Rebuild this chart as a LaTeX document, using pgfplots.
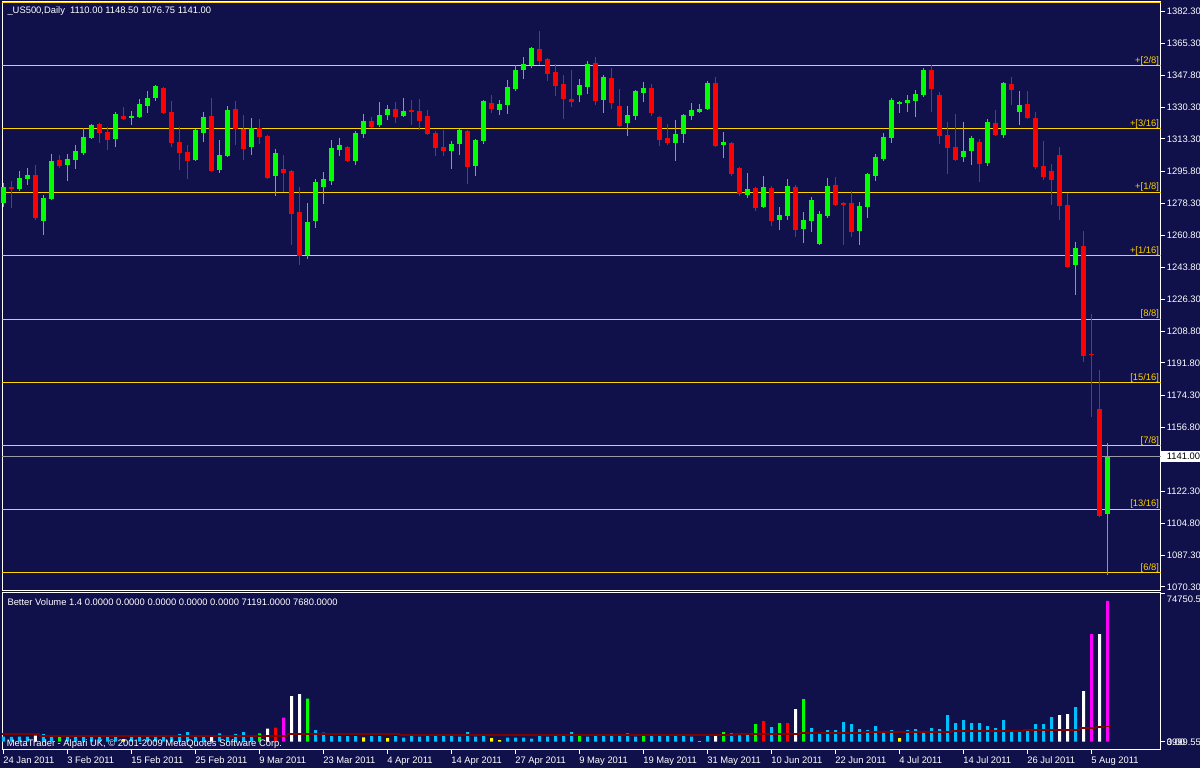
\documentclass[border=0pt]{standalone}
\usepackage{fontspec}
\setmainfont{Liberation Sans}
\usepackage{pgfplots}
\pgfplotsset{compat=1.18}
\usepackage{pgfplotstable}

\definecolor{chartbg}{HTML}{10104A}
\definecolor{bull}{HTML}{00FF00}
\definecolor{bear}{HTML}{FF0000}
\definecolor{murrey}{HTML}{FFD400}
\definecolor{curprice}{HTML}{9C9CA8}
\definecolor{vblue}{HTML}{00BFFF}
\definecolor{vgreen}{HTML}{00FF00}
\definecolor{vred}{HTML}{FF0000}
\definecolor{vmag}{HTML}{FF00FF}
\definecolor{vyel}{HTML}{FFFF00}
\definecolor{vavg}{HTML}{800000}

\newcommand{\chartfont}{\fontsize{9.4}{11}\selectfont}
\tikzset{
  lbl/.style={font=\chartfont, text=white, inner sep=0pt},
  rlab/.style={lbl, anchor=west, xshift=6.2pt},
  xlab/.style={lbl, anchor=base west, xshift=-0.4pt, yshift=-13.3pt},
  mlab/.style={font=\chartfont, text=murrey, inner sep=0pt, anchor=base east, xshift=-1.3pt, yshift=2.3pt},
}

% daily candles, US500: index, open, high, low, close
\pgfplotstableread{
i o h l c
0 1278.4 1289.2 1276.5 1287.4
2 1286.2 1295.9 1285.1 1292.1
3 1291.6 1297.4 1288.3 1293.7
5 1268.8 1282.9 1261.2 1281.3
6 1280.7 1305.1 1280.2 1301.3
8 1299.2 1305.1 1290.5 1302.4
9 1301.9 1310.0 1297.0 1306.8
10 1305.7 1319.2 1304.6 1314.4
11 1313.8 1321.4 1313.3 1320.9
14 1313.3 1327.9 1308.9 1326.8
16 1324.7 1328.5 1320.9 1325.7
17 1325.2 1335.0 1324.7 1332.3
18 1331.2 1339.3 1327.4 1335.5
19 1335.5 1342.6 1333.9 1342.0
24 1301.9 1318.7 1301.3 1318.2
25 1316.5 1327.9 1311.6 1325.2
27 1296.5 1312.7 1294.8 1304.6
28 1304.0 1331.2 1303.5 1329.0
31 1308.9 1324.7 1304.6 1319.2
34 1293.2 1307.8 1282.4 1305.7
38 1250.4 1278.6 1248.2 1268.3
39 1268.8 1291.6 1265.0 1290.0
40 1287.2 1295.4 1278.0 1291.6
41 1290.5 1312.7 1288.3 1308.4
42 1307.3 1313.8 1304.0 1310.0
44 1301.3 1317.6 1299.2 1316.5
45 1316.0 1326.8 1313.8 1323.0
47 1320.9 1333.3 1319.8 1326.3
48 1326.3 1331.7 1323.6 1329.5
50 1325.7 1335.5 1325.2 1328.5
56 1306.8 1312.2 1297.0 1310.6
57 1310.6 1318.7 1304.6 1318.2
59 1298.6 1313.3 1293.2 1312.7
60 1312.2 1334.4 1310.6 1333.9
62 1329.0 1334.4 1326.3 1332.3
63 1331.7 1345.3 1326.8 1341.5
64 1340.4 1353.4 1339.3 1350.7
65 1350.7 1357.7 1345.8 1353.9
66 1353.4 1363.2 1351.8 1362.6
72 1337.1 1345.8 1333.3 1342.6
73 1341.5 1355.6 1337.7 1353.9
75 1334.4 1348.0 1327.4 1346.9
78 1321.9 1331.2 1314.9 1326.3
79 1325.7 1339.8 1323.6 1339.3
80 1338.2 1344.2 1333.3 1340.9
84 1311.1 1323.6 1301.3 1316.0
85 1316.0 1326.8 1311.1 1326.3
86 1325.7 1332.8 1323.6 1329.0
87 1327.9 1332.3 1327.4 1329.5
88 1329.5 1344.7 1329.0 1343.6
90 1310.0 1317.1 1303.0 1311.6
93 1282.9 1294.8 1281.3 1286.2
95 1276.4 1293.2 1275.9 1287.2
97 1269.3 1276.4 1263.9 1272.1
98 1271.5 1291.6 1269.3 1287.8
100 1264.5 1273.7 1256.9 1269.3
101 1268.8 1281.8 1262.8 1280.2
102 1256.3 1274.2 1255.8 1272.6
103 1271.5 1292.1 1270.4 1287.8
107 1263.4 1279.1 1255.8 1276.9
108 1276.4 1294.8 1270.4 1294.3
109 1293.2 1305.1 1290.5 1303.5
110 1302.4 1316.5 1301.3 1314.4
111 1313.8 1335.5 1311.1 1334.4
112 1332.3 1333.9 1327.4 1333.3
113 1332.8 1337.1 1327.9 1334.4
114 1333.9 1339.8 1325.2 1337.7
115 1337.1 1351.8 1336.0 1350.7
120 1303.5 1322.5 1300.8 1306.8
121 1306.8 1314.9 1299.2 1313.8
123 1300.2 1324.1 1298.6 1322.5
125 1315.4 1344.2 1313.8 1343.6
127 1327.9 1339.3 1320.9 1331.7
134 1244.9 1257.4 1228.7 1254.2
138 1110.00 1148.50 1076.75 1141.00
}\bullcandles

\pgfplotstableread{
i o h l c
1 1287.4 1290.5 1276.0 1286.2
4 1293.7 1299.2 1269.3 1270.6
7 1301.9 1304.6 1297.4 1298.6
12 1321.4 1322.0 1311.1 1316.5
13 1317.1 1319.8 1307.3 1312.7
15 1325.7 1330.6 1323.6 1324.1
20 1340.9 1341.5 1326.8 1327.4
21 1327.9 1333.9 1308.9 1311.1
22 1311.6 1319.8 1296.5 1305.7
23 1306.2 1310.0 1291.6 1301.3
26 1325.7 1335.5 1295.4 1295.9
29 1329.5 1333.9 1310.0 1318.7
30 1318.7 1326.3 1301.9 1307.8
32 1319.2 1324.1 1310.6 1314.4
33 1314.9 1315.4 1291.6 1292.1
35 1297.0 1304.6 1284.5 1294.8
36 1295.9 1296.5 1255.8 1272.6
37 1273.7 1287.2 1244.9 1249.8
43 1308.9 1309.5 1300.8 1301.3
46 1323.0 1325.2 1319.2 1319.8
49 1329.5 1333.3 1321.9 1325.2
51 1329.0 1334.4 1320.9 1327.9
52 1328.5 1335.0 1318.2 1323.0
53 1325.7 1329.0 1315.4 1316.0
54 1316.5 1317.6 1304.0 1308.4
55 1308.9 1318.2 1304.0 1306.8
58 1317.6 1318.2 1288.9 1298.1
61 1332.8 1337.1 1327.4 1329.5
67 1362.1 1371.8 1353.4 1355.6
68 1356.7 1357.2 1344.7 1348.5
69 1349.6 1353.9 1336.6 1342.0
70 1343.1 1348.0 1324.1 1335.0
71 1335.0 1350.7 1330.6 1333.3
74 1354.5 1357.7 1331.7 1333.9
76 1346.3 1351.8 1329.5 1332.8
77 1331.2 1340.4 1319.8 1320.3
81 1340.9 1343.1 1325.7 1327.4
82 1325.2 1325.7 1309.5 1312.7
83 1313.8 1321.4 1310.0 1311.1
89 1343.6 1346.9 1308.9 1309.5
91 1311.1 1311.6 1293.2 1294.3
92 1297.5 1298.1 1282.4 1283.4
94 1286.7 1287.2 1274.2 1275.9
96 1286.7 1287.8 1266.1 1268.8
99 1287.2 1288.3 1260.1 1263.9
104 1288.3 1292.7 1276.9 1277.5
105 1278.6 1279.1 1255.8 1277.5
106 1278.6 1285.1 1260.1 1262.8
116 1350.7 1353.4 1327.9 1340.4
117 1337.1 1338.8 1310.6 1314.9
118 1315.4 1322.5 1294.3 1308.4
119 1308.9 1326.8 1301.3 1301.9
122 1311.6 1313.3 1289.9 1299.7
124 1321.9 1329.0 1314.9 1315.4
126 1343.1 1346.9 1331.7 1339.8
128 1332.3 1339.3 1324.1 1324.7
129 1324.7 1327.9 1297.0 1298.1
130 1298.6 1312.2 1291.0 1292.7
131 1295.9 1299.7 1277.5 1291.0
132 1304.6 1308.9 1269.3 1276.9
133 1277.5 1284.0 1243.3 1243.9
135 1255.2 1263.4 1192.3 1195.6
136 1196.7 1218.4 1162.5 1196.1
137 1166.8 1188.0 1108.3 1108.8
}\bearcandles

% Better Volume histogram, split by bar colour
\pgfplotstableread{
i v
0 2530
1 2450
2 2530
3 2600
5 3880
6 2530
8 2450
9 2530
10 2450
11 2530
12 2450
13 2530
14 2450
16 2450
17 2530
18 2450
19 2530
20 2530
21 2700
22 3880
23 4890
24 2530
25 2530
27 4220
28 2530
29 3880
30 4890
31 2530
39 5900
40 4550
41 2870
42 2870
43 2870
44 2870
46 2870
47 2870
49 2870
50 2020
51 2870
52 2530
53 2870
54 2870
55 2870
56 2870
57 2530
58 4890
59 2530
60 2870
63 2020
64 2020
65 2020
66 1520
67 2870
68 2530
69 2870
70 2870
71 4890
73 2530
74 2870
75 2870
76 2870
77 2870
78 4220
79 2530
81 2870
82 2870
83 2870
84 2870
85 2870
86 2530
88 2870
91 4220
92 3210
93 3540
96 7420
101 6920
102 3880
103 5900
104 5900
105 9950
106 8940
107 6410
108 5900
109 7930
110 4890
111 5900
113 5900
114 6410
115 4890
116 6920
117 6410
118 13500
119 9450
120 10970
121 9450
122 9450
123 7930
124 6920
125 10970
126 4890
127 4890
128 5900
129 8940
130 8940
131 12480
134 17540
}\volblue

\pgfplotstableread{
i v
4 3040
26 2530
33 6580
36 23110
37 24120
89 2870
99 16530
132 13500
133 14000
135 25640
137 54490
}\volwhite

\pgfplotstableread{
i v
7 2530
32 4220
38 21760
72 2870
80 2870
90 4890
94 8940
97 9450
100 21590
}\volgreen

\pgfplotstableread{
i v
34 7080
95 10460
98 9450
}\volred

\pgfplotstableread{
i v
35 12140
136 54490
138 71191
}\volmag

\pgfplotstableread{
i v
15 1350
45 2190
48 1860
61 1860
62 840
87 340
112 1860
}\volyel

\begin{document}
\begin{tikzpicture}
\path[use as bounding box] (0pt,0pt) rectangle (1200pt,768pt);
\fill[chartbg] (0pt,0pt) rectangle (1200pt,768pt);

% ---------------- price panel ----------------
\begin{axis}[
  at={(2.5pt,177.5pt)}, anchor=south west,
  scale only axis, width=1158pt, height=588.6pt,
  xmin=-0.125, xmax=144.625, ymin=1068.4, ymax=1387.6,
  axis line style={white, line width=1pt},
  xtick=\empty,
  ytick={1070.30,1087.30,1104.80,1122.30,1139.30,1156.80,1174.30,1191.80,1208.80,1226.30,1243.80,1260.80,1278.30,1295.80,1313.30,1330.30,1347.80,1365.30,1382.30},
  yticklabels={},
  scaled y ticks=false,
  ytick pos=right,
  tick align=outside,
  major tick length=4pt,
  tick style={white, line width=1pt},
  clip=false,
]
% Murrey math levels
\addplot[murrey, line width=1pt] coordinates {(-0.125,1078.125) (144.625,1078.125)};
\addplot[murrey, line width=1pt] coordinates {(-0.125,1112.5) (144.625,1112.5)};
\addplot[murrey, line width=1pt] coordinates {(-0.125,1146.875) (144.625,1146.875)};
\addplot[murrey, line width=1pt] coordinates {(-0.125,1181.25) (144.625,1181.25)};
\addplot[murrey, line width=1pt] coordinates {(-0.125,1215.625) (144.625,1215.625)};
\addplot[murrey, line width=1pt] coordinates {(-0.125,1250) (144.625,1250)};
\addplot[murrey, line width=1pt] coordinates {(-0.125,1284.375) (144.625,1284.375)};
\addplot[murrey, line width=1pt] coordinates {(-0.125,1318.75) (144.625,1318.75)};
\addplot[murrey, line width=1pt] coordinates {(-0.125,1353.125) (144.625,1353.125)};
\addplot[murrey, line width=1pt] coordinates {(-0.125,1387.1) (144.625,1387.1)};
% last price
\addplot[curprice, line width=1pt] coordinates {(-0.125,1141) (144.625,1141)};

% wicks
\addplot[draw=none, error bars/.cd, y dir=plus, y explicit, error mark=none,
  error bar style={draw=bull, line width=1pt}]
  table[x=i, y=l, y error expr=\thisrow{h}-\thisrow{l}] {\bullcandles};
\addplot[draw=none, error bars/.cd, y dir=plus, y explicit, error mark=none,
  error bar style={draw=bear, line width=1pt}]
  table[x=i, y=l, y error expr=\thisrow{h}-\thisrow{l}] {\bearcandles};
% bodies
\addplot[draw=none, error bars/.cd, y dir=plus, y explicit, error mark=none,
  error bar style={draw=bull, line width=4.6pt}]
  table[x=i, y=o, y error expr={max(\thisrow{c}-\thisrow{o},0.55)}] {\bullcandles};
\addplot[draw=none, error bars/.cd, y dir=plus, y explicit, error mark=none,
  error bar style={draw=bear, line width=4.6pt}]
  table[x=i, y=c, y error expr={max(\thisrow{o}-\thisrow{c},0.55)}] {\bearcandles};

% level labels
\node[mlab] at (axis cs:144.625,1353.125) {+[2/8]};
\node[mlab] at (axis cs:144.625,1318.75) {+[3/16]};
\node[mlab] at (axis cs:144.625,1284.375) {+[1/8]};
\node[mlab] at (axis cs:144.625,1250) {+[1/16]};
\node[mlab] at (axis cs:144.625,1215.625) {[8/8]};
\node[mlab] at (axis cs:144.625,1181.25) {[15/16]};
\node[mlab] at (axis cs:144.625,1146.875) {[7/8]};
\node[mlab] at (axis cs:144.625,1112.5) {[13/16]};
\node[mlab] at (axis cs:144.625,1078.125) {[6/8]};

% price scale
\node[rlab] at (axis cs:144.625,1382.30) {1382.30};
\node[rlab] at (axis cs:144.625,1365.30) {1365.30};
\node[rlab] at (axis cs:144.625,1347.80) {1347.80};
\node[rlab] at (axis cs:144.625,1330.30) {1330.30};
\node[rlab] at (axis cs:144.625,1313.30) {1313.30};
\node[rlab] at (axis cs:144.625,1295.80) {1295.80};
\node[rlab] at (axis cs:144.625,1278.30) {1278.30};
\node[rlab] at (axis cs:144.625,1260.80) {1260.80};
\node[rlab] at (axis cs:144.625,1243.80) {1243.80};
\node[rlab] at (axis cs:144.625,1226.30) {1226.30};
\node[rlab] at (axis cs:144.625,1208.80) {1208.80};
\node[rlab] at (axis cs:144.625,1191.80) {1191.80};
\node[rlab] at (axis cs:144.625,1174.30) {1174.30};
\node[rlab] at (axis cs:144.625,1156.80) {1156.80};
\node[rlab] at (axis cs:144.625,1139.30) {1139.30};
\node[rlab] at (axis cs:144.625,1122.30) {1122.30};
\node[rlab] at (axis cs:144.625,1104.80) {1104.80};
\node[rlab] at (axis cs:144.625,1087.30) {1087.30};
\node[rlab] at (axis cs:144.625,1070.30) {1070.30};
\node[fill=white, text=black, font=\chartfont, anchor=west, xshift=0.5pt,
  inner xsep=5.7pt, inner ysep=0pt, minimum height=11pt] at (axis cs:144.625,1141) {1141.00};
\end{axis}

% ---------------- volume panel ----------------
\begin{axis}[
  at={(2.5pt,18pt)}, anchor=south west,
  scale only axis, width=1158pt, height=157.5pt,
  xmin=-0.125, xmax=144.625, ymin=-4200, ymax=75495,
  axis line style={white, line width=1pt},
  xtick={0,8,...,136}, xticklabels={},
  ytick={0,74750.55}, yticklabels={},
  scaled y ticks=false, scaled x ticks=false,
  xtick pos=left, ytick pos=right,
  tick align=outside,
  major tick length=4pt,
  tick style={white, line width=1pt},
  clip=false,
]
\addplot[ybar, bar width=3pt, bar shift=0pt, fill=vblue, draw=none] table[x=i, y=v] {\volblue};
\addplot[ybar, bar width=3pt, bar shift=0pt, fill=white, draw=none] table[x=i, y=v] {\volwhite};
\addplot[ybar, bar width=3pt, bar shift=0pt, fill=vgreen, draw=none] table[x=i, y=v] {\volgreen};
\addplot[ybar, bar width=3pt, bar shift=0pt, fill=vred, draw=none] table[x=i, y=v] {\volred};
\addplot[ybar, bar width=3pt, bar shift=0pt, fill=vmag, draw=none] table[x=i, y=v] {\volmag};
\addplot[ybar, bar width=3pt, bar shift=0pt, fill=vyel, draw=none] table[x=i, y=v] {\volyel};
% volume average
\addplot[vavg, line width=1.8pt, const plot] coordinates {
  (-0.125,3710) (4.5,3040) (35.5,3710) (49.5,3540) (91.5,4050) (99.5,4555)
  (107.5,5060) (118.5,5570) (127.5,5900) (134.5,6750) (136.5,7250) (137.5,7680) (138.4,7680)};

\node[rlab, yshift=-5.3pt] at (axis cs:144.625,74750.55) {74750.55};
\node[rlab, yshift=-1pt] at (axis cs:144.625,0) {0.00};
\node[rlab, yshift=-1pt] at (axis cs:144.625,0) {3999.55};

% date scale
\node[xlab] at (axis cs:0,-4200) {24 Jan 2011};
\node[xlab] at (axis cs:8,-4200) {3 Feb 2011};
\node[xlab] at (axis cs:16,-4200) {15 Feb 2011};
\node[xlab] at (axis cs:24,-4200) {25 Feb 2011};
\node[xlab] at (axis cs:32,-4200) {9 Mar 2011};
\node[xlab] at (axis cs:40,-4200) {23 Mar 2011};
\node[xlab] at (axis cs:48,-4200) {4 Apr 2011};
\node[xlab] at (axis cs:56,-4200) {14 Apr 2011};
\node[xlab] at (axis cs:64,-4200) {27 Apr 2011};
\node[xlab] at (axis cs:72,-4200) {9 May 2011};
\node[xlab] at (axis cs:80,-4200) {19 May 2011};
\node[xlab] at (axis cs:88,-4200) {31 May 2011};
\node[xlab] at (axis cs:96,-4200) {10 Jun 2011};
\node[xlab] at (axis cs:104,-4200) {22 Jun 2011};
\node[xlab] at (axis cs:112,-4200) {4 Jul 2011};
\node[xlab] at (axis cs:120,-4200) {14 Jul 2011};
\node[xlab] at (axis cs:128,-4200) {26 Jul 2011};
\node[xlab] at (axis cs:136,-4200) {5 Aug 2011};
\end{axis}

% panel captions
\node[lbl, anchor=base west] at (7.3pt,754pt) {\_US500,Daily\ \ 1110.00 1148.50 1076.75 1141.00};
\node[lbl, anchor=base west] at (7.3pt,162.3pt) {Better Volume 1.4 0.0000 0.0000 0.0000 0.0000 0.0000 71191.0000 7680.0000};
\node[lbl, anchor=base west] at (6.7pt,21.3pt) {MetaTrader - Alpari UK, © 2001-2009 MetaQuotes Software Corp.};
\end{tikzpicture}
\end{document}
